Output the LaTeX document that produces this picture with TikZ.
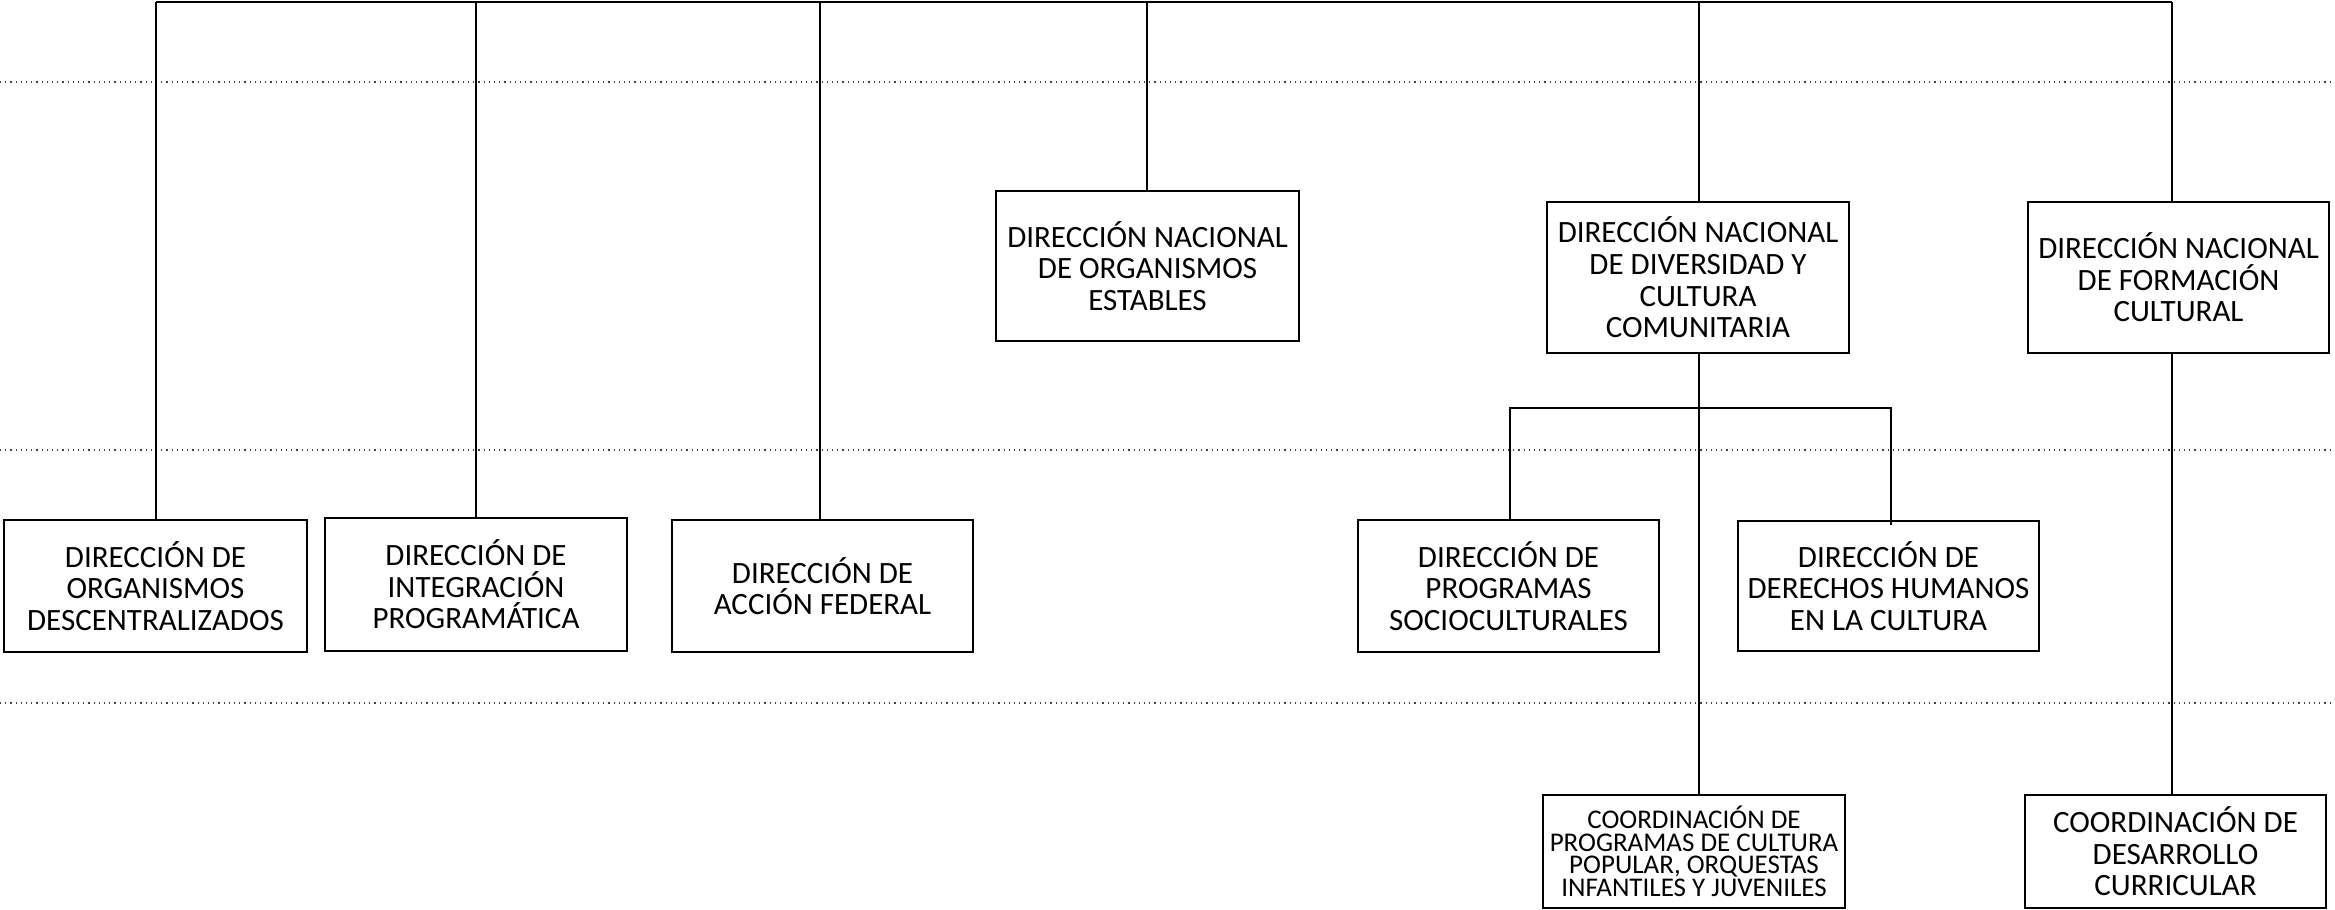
\documentclass[tikz,border=0pt]{standalone}
\usepackage{fontspec}
\setmainfont{Carlito}
\begin{document}
\begin{tikzpicture}[x=0.5pt,y=-0.5pt,
  box/.style={draw=black,line width=1pt,inner sep=0pt,align=center,
    font=\fontsize{15.5}{15.8}\selectfont},
  conn/.style={draw=black,line width=0.6pt},
  guide/.style={draw=black!75,line width=0.6pt,dotted}]
\useasboundingbox (0,0) rectangle (2335,910);
% guide lines
\coordinate (g1a) at (0,82); \coordinate (g1b) at (2335,82);
\coordinate (g2a) at (0,450); \coordinate (g2b) at (2335,450);
\coordinate (g3a) at (0,703); \coordinate (g3b) at (2335,703);
\draw[guide] (g1a) -- (g1b);
\draw[guide] (g2a) -- (g2b);
\draw[guide] (g3a) -- (g3b);
% boxes
\node[box,minimum width=151.5pt,minimum height=66pt] (b1) at (155.5,586) {DIRECCIÓN DE\\ORGANISMOS\\DESCENTRALIZADOS};
\node[box,minimum width=151pt,minimum height=66.5pt] (b2) at (476,584.5) {DIRECCIÓN DE\\INTEGRACIÓN\\PROGRAMÁTICA};
\node[box,minimum width=150.5pt,minimum height=66pt] (b3) at (822.5,586) {DIRECCIÓN DE\\ACCIÓN FEDERAL};
\node[box,minimum width=151.5pt,minimum height=75pt] (b4) at (1147.5,266) {DIRECCIÓN NACIONAL\\DE ORGANISMOS\\ESTABLES};
\node[box,minimum width=151pt,minimum height=75.5pt] (b5) at (1698,277.5) {DIRECCIÓN NACIONAL\\DE DIVERSIDAD Y\\CULTURA\\COMUNITARIA};
\node[box,minimum width=150.5pt,minimum height=75.5pt] (b6) at (2178.5,277.5) {DIRECCIÓN NACIONAL\\DE FORMACIÓN\\CULTURAL};
\node[box,minimum width=150.5pt,minimum height=66pt] (b7) at (1508.5,586) {DIRECCIÓN DE\\PROGRAMAS\\SOCIOCULTURALES};
\node[box,minimum width=150.5pt,minimum height=65pt] (b8) at (1888.5,586) {DIRECCIÓN DE\\DERECHOS HUMANOS\\EN LA CULTURA};
\node[box,minimum width=151pt,minimum height=56.5pt,font=\fontsize{13.5}{11.3}\selectfont] (b9) at (1694,851.5) {COORDINACIÓN DE\\PROGRAMAS DE CULTURA\\POPULAR, ORQUESTAS\\INFANTILES Y JUVENILES};
\node[box,minimum width=150.5pt,minimum height=56.5pt] (b10) at (2175.5,851.5) {COORDINACIÓN DE\\DESARROLLO\\CURRICULAR};
% top bar
\coordinate (t1) at (156,2);
\coordinate (t2) at (476,2);
\coordinate (t3) at (820,2);
\coordinate (t4) at (1147,2);
\coordinate (t5) at (1699,2);
\coordinate (t6) at (2172,2);
\draw[conn] (t1) -- (t6);
\draw[conn] (t1) -- (t1 |- b1.north);
\draw[conn] (t2) -- (t2 |- b2.north);
\draw[conn] (t3) -- (t3 |- b3.north);
\draw[conn] (t4) -- (t4 |- b4.north);
\draw[conn] (t5) -- (t5 |- b5.north);
\draw[conn] (t6) -- (t6 |- b6.north);
% lower connectors
\coordinate (s5) at (1699,353);
\draw[conn] (s5) -- (s5 |- b9.north);
\coordinate (s6) at (2172,353);
\draw[conn] (s6) -- (s6 |- b10.north);
\coordinate (bl) at (1510,408);
\coordinate (brr) at (1891,408);
\coordinate (bend) at (1891,525);
\draw[conn] (bl |- b7.north) -- (bl) -- (brr) -- (bend);
\end{tikzpicture}
\end{document}
